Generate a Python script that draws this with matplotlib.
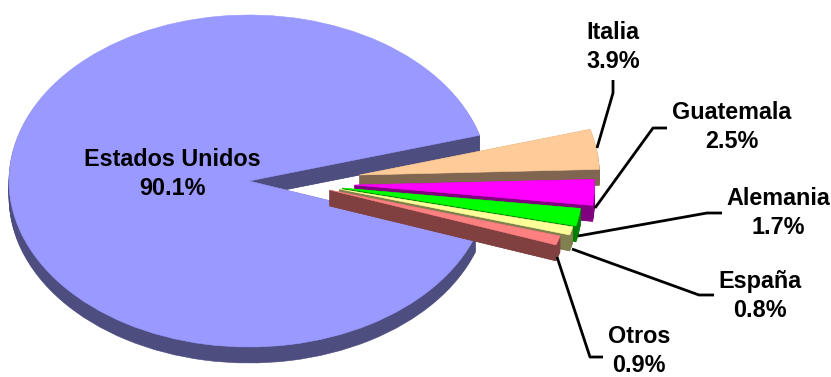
import numpy as np
import matplotlib
matplotlib.use("Agg")
import matplotlib.pyplot as plt

# data, in the order the slices run clockwise from the gap
names = ["Italia", "Guatemala", "Alemania", "España", "Otros", "Estados Unidos"]
share = [3.9, 2.5, 1.7, 0.8, 0.9, 90.1]
top_col = ["#FFCC99", "#FF00FF", "#00FF00", "#FFFF99", "#FF8080", "#9999FF"]
side_col = ["#806650", "#800080", "#008000", "#808050", "#804040", "#4D4D80"]
explode = [0.466, 0.44, 0.395, 0.388, 0.352, 0]

# pie geometry in pixels of the output image
W, H = 831, 377
cx, cy = 249, 181
rx, ry = 240, 166
depth = 16
start = 16
drop = [-6, 4, 7, 8, 9, 0]  # how far each exploded slice sits below the centre, px

label_xy = [(613, 47), (732, 127), (778, 213), (760, 296), (639, 351), (172, 174)]
leaders = [
    [(613, 80), (613, 93), (597, 148)],
    [(667, 128), (653, 128), (595, 208)],
    [(722, 213), (707, 213), (578, 236)],
    [(714, 295), (699, 295), (572, 249)],
    [(603, 357), (590, 357), (557, 257)],
]

plt.rcParams['font.family'] = ['Liberation Sans', 'DejaVu Sans']

fig = plt.figure(figsize=(W / 100, H / 100), dpi=100)
ax = fig.add_axes([0, 0, 1, 1])

# main slice at the bottom, then the exploded ones from back to front
order = [1, 2, 3, 4, 5, 0]


def layer(dy, colors, bump):
    wedges, _ = ax.pie(share, explode=explode, startangle=start, counterclock=False,
                       colors=colors, center=(0, -dy / ry), radius=1,
                       wedgeprops=dict(linewidth=0.4))
    for i, w in enumerate(wedges):
        w.set_edgecolor(colors[i])
        w.set_zorder(order[i] * 2 + 1 + bump)
        x0, y0 = w.center
        w.set_center((x0, -(dy + drop[i]) / ry))
    return wedges


for d in range(depth, 0, -1):
    layer(d, side_col, 0)
tops = layer(0, top_col, 1)

# the two cut faces of each slice, the stacked wedges leave their thin tips pale
for i, w in enumerate(tops):
    x0, y0 = w.center
    for a in (w.theta1, w.theta2):
        ex = x0 + np.cos(np.radians(a))
        ey = y0 + np.sin(np.radians(a))
        ax.fill([x0, ex, ex, x0], [y0, ey, ey - depth / ry, y0 - depth / ry],
                color=side_col[i], lw=0, zorder=order[i] * 2 + 1.5)

ax.set_aspect("auto")
ax.set_xlim(-cx / rx, (W - cx) / rx)
ax.set_ylim((cy - H) / ry, cy / ry)
ax.axis("off")

# labels and leader lines in pixel coordinates
ov = fig.add_axes([0, 0, 1, 1])
ov.set_xlim(0, W)
ov.set_ylim(H, 0)
ov.axis("off")
ov.patch.set_alpha(0)

for pts in leaders:
    xs = [p[0] for p in pts]
    ys = [p[1] for p in pts]
    ov.plot(xs, ys, color="black", lw=2, solid_capstyle="butt", solid_joinstyle="round")

for name, val, (x, y) in zip(names, share, label_xy):
    ov.text(x, y, f"{name}\n{val:.1f}%", ha="center", va="center", fontsize=16.8,
            fontweight="bold", color="black", linespacing=1.3)

fig.savefig("out.png", dpi=100, facecolor="white")
